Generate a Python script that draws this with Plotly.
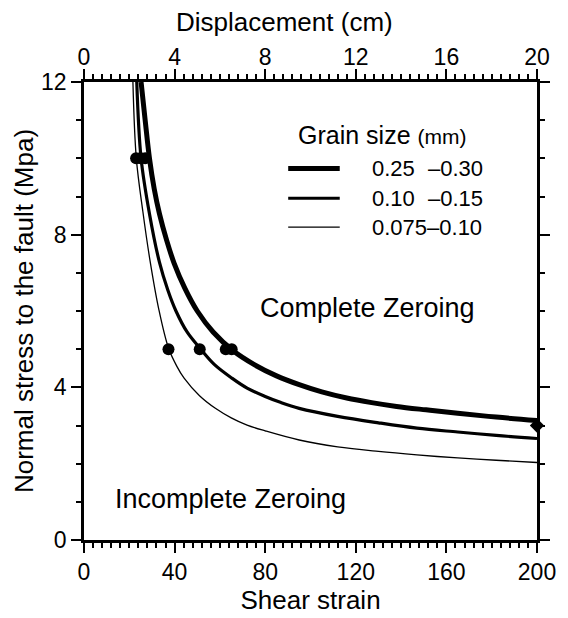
import plotly.graph_objects as go

# Curves (shear strain, normal stress MPa)
thick_x = [25.2, 27.0, 28.9, 31.0, 33.3, 36.5, 39.8, 44.5, 50.0, 57.0, 66.0, 75, 85, 95, 105, 116, 127, 138, 151, 165, 182, 200]
thick_y = [12, 11, 10, 9.2, 8.55, 7.85, 7.25, 6.6, 6.0, 5.45, 4.95, 4.6, 4.3, 4.07, 3.88, 3.72, 3.6, 3.5, 3.41, 3.32, 3.22, 3.13]

med_x = [23.3, 25.2, 28.9, 33.3, 37.0, 40.6, 45.5, 51.1, 57.5, 65.3, 72, 80, 87, 95, 112, 130, 147, 165, 182, 200]
med_y = [12, 10, 8.55, 7.28, 6.55, 6.0, 5.45, 5.03, 4.6, 4.24, 3.98, 3.76, 3.6, 3.45, 3.24, 3.07, 2.93, 2.83, 2.74, 2.66]

thin_x = [21.6, 23.1, 26.0, 29.2, 33.0, 37.3, 41.0, 44.2, 51, 58, 65, 72, 80, 95, 112, 130, 147, 165, 182, 200]
thin_y = [12, 10, 8.6, 7.3, 6.05, 5.03, 4.55, 4.24, 3.78, 3.45, 3.2, 3.01, 2.86, 2.62, 2.44, 2.32, 2.23, 2.15, 2.09, 2.03]

dot_x = [23, 25, 27, 37.3, 51.1, 62.6, 65.2]
dot_y = [10, 10, 10, 5, 5, 5, 5]
diamond_x = [200]
diamond_y = [3.0]

legend_names = ["0.25", "0.10", "0.075–0.10"]
legend_tails = ["–0.30", "–0.15", ""]

FONT = "Liberation Sans, Arial, Helvetica, sans-serif"
BLACK = "#000000"

fig = go.Figure()
fig.add_trace(go.Scatter(x=thin_x, y=thin_y, mode="lines", line=dict(color=BLACK, width=1.3, shape="spline", smoothing=1.0), showlegend=False))
fig.add_trace(go.Scatter(x=med_x, y=med_y, mode="lines", line=dict(color=BLACK, width=3.2, shape="spline", smoothing=1.0), showlegend=False))
fig.add_trace(go.Scatter(x=thick_x, y=thick_y, mode="lines", line=dict(color=BLACK, width=5, shape="spline", smoothing=1.0), showlegend=False))
fig.add_trace(go.Scatter(x=dot_x, y=dot_y, mode="markers", marker=dict(color=BLACK, size=12, symbol="circle"), showlegend=False))
fig.add_trace(go.Scatter(x=diamond_x, y=diamond_y, mode="markers", marker=dict(color=BLACK, size=11, symbol="diamond"), showlegend=False, cliponaxis=False))
# invisible trace to anchor the top and right axes
fig.add_trace(go.Scatter(x=[0, 20], y=[0, 12], xaxis="x2", yaxis="y2", mode="markers", marker=dict(opacity=0), hoverinfo="skip", showlegend=False))

tickfont = dict(family=FONT, size=23, color=BLACK)
axis_common = dict(showline=True, linecolor=BLACK, linewidth=2.5, ticks="outside", ticklen=10, tickwidth=2, tickcolor=BLACK,
                   showgrid=False, zeroline=False, tickfont=tickfont)

fig.update_layout(
    width=568, height=618,
    margin=dict(l=84, r=27, t=82, b=75),
    paper_bgcolor="white", plot_bgcolor="white",
    font=dict(family=FONT, color=BLACK),
    xaxis=dict(range=[0, 200], dtick=40, tick0=0, **axis_common,
               minor=dict(dtick=4, ticks="outside", ticklen=5, tickwidth=1.5, tickcolor=BLACK),
               title=dict(text="Shear strain", font=dict(family=FONT, size=26, color=BLACK), standoff=2)),
    yaxis=dict(range=[0, 12], dtick=4, tick0=0, **axis_common,
               minor=dict(dtick=1, ticks="outside", ticklen=5, tickwidth=1.5, tickcolor=BLACK),
               title=dict(text="Normal stress to the fault (Mpa)", font=dict(family=FONT, size=26, color=BLACK), standoff=0)),
    xaxis2=dict(range=[0, 20], dtick=4, tick0=0, overlaying="x", side="top", anchor="y", ticklabelstandoff=-5, **axis_common,
                minor=dict(dtick=0.4, ticks="outside", ticklen=5, tickwidth=1.5, tickcolor=BLACK)),
    yaxis2=dict(range=[0, 12], dtick=4, tick0=0, overlaying="y", side="right", anchor="x", showticklabels=False,
                showline=True, linecolor=BLACK, linewidth=2.5, ticks="outside", ticklen=10, tickwidth=2, tickcolor=BLACK,
                showgrid=False, zeroline=False,
                minor=dict(dtick=1, ticks="outside", ticklen=5, tickwidth=1.5, tickcolor=BLACK)),
)

# top axis title
fig.add_annotation(text="Displacement (cm)", xref="paper", yref="paper", x=(286 - 84) / 457, y=1, yshift=60,
                   showarrow=False, font=dict(family=FONT, size=26, color=BLACK), xanchor="center", yanchor="middle")

# region labels
fig.add_annotation(text="Complete Zeroing", x=125, y=6.07, showarrow=False, font=dict(family=FONT, size=27, color=BLACK))
fig.add_annotation(text="Incomplete Zeroing", x=64.8, y=1.07, showarrow=False, font=dict(family=FONT, size=27, color=BLACK))

# legend (drawn manually)
def px(xp):
    return (xp - 84) / 457

def py(yp):
    return (543 - yp) / 461

fig.add_annotation(text="Grain size <span style='font-size:21px'>(mm)</span>", xref="paper", yref="paper",
                   x=px(298), y=py(135), xanchor="left", yanchor="middle", showarrow=False,
                   font=dict(family=FONT, size=25, color=BLACK))
widths = [5, 3.2, 1.3]
rows = [169, 199, 228]
for name, tail, w, r in zip(legend_names, legend_tails, widths, rows):
    fig.add_shape(type="line", xref="paper", yref="paper", x0=px(290), x1=px(342), y0=py(r), y1=py(r),
                  line=dict(color=BLACK, width=w))
    fig.add_annotation(text=name, xref="paper", yref="paper", x=px(373), y=py(r), xanchor="left", yanchor="middle",
                       showarrow=False, font=dict(family=FONT, size=22, color=BLACK))
    if tail:
        fig.add_annotation(text=tail, xref="paper", yref="paper", x=px(429), y=py(r), xanchor="left", yanchor="middle",
                           showarrow=False, font=dict(family=FONT, size=22, color=BLACK))

fig.write_html("out.html")
